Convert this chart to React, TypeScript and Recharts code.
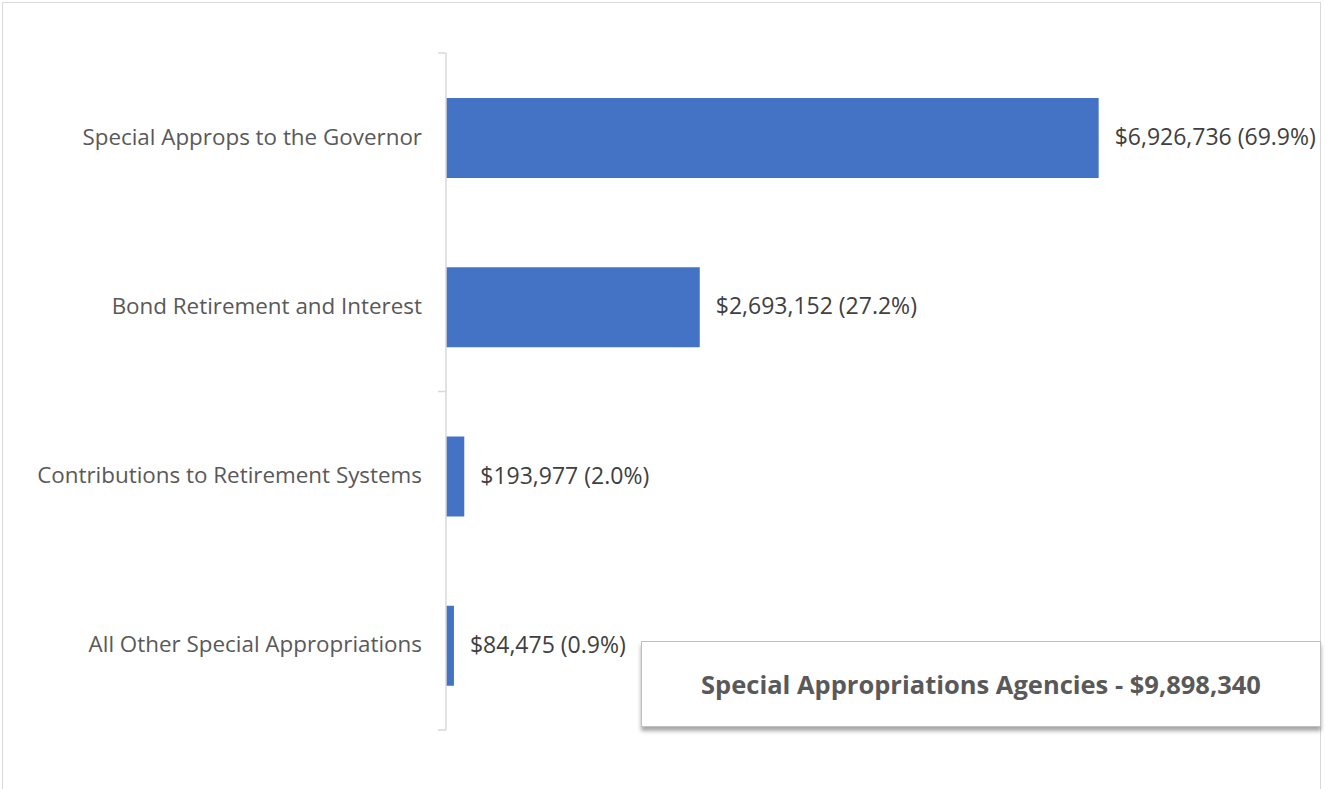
import { Bar, BarChart, LabelList, XAxis, YAxis } from 'recharts';

// categories, amounts and shares as printed on the chart
const categories = [
  'Special Approps to the Governor',
  'Bond Retirement and Interest',
  'Contributions to Retirement Systems',
  'All Other Special Appropriations',
];
const amounts = [6926736, 2693152, 193977, 84475];
const shares = ['69.9', '27.2', '2.0', '0.9'];
const title = 'Special Appropriations Agencies - $9,898,340';

const rows = categories.map((name, i) => ({ name, amount: amounts[i], share: shares[i] }));

const W = 1325;
const H = 789;
const MARGIN = { top: 53, right: 31, bottom: 59, left: 0 };
const AXIS_W = 446;
const band = (H - MARGIN.top - MARGIN.bottom) / categories.length;
const FONT = '"Open Sans", sans-serif';

// category label plus the tick marks that Excel puts every 2 categories
function CategoryTick(props: any) {
  const { x, y, payload, index } = props;
  const ax = x + 24;
  const marks: number[] = [];
  if (index % 2 === 0) marks.push(y - band / 2);
  if (index === categories.length - 1 && categories.length % 2 === 0) marks.push(y + band / 2);
  return (
    <g>
      {marks.map((my, k) => (
        <line key={k} x1={ax - 8} x2={ax} y1={my} y2={my} stroke="#d9d9d9" strokeWidth={1.5} />
      ))}
      <text x={x} y={y} dy={7} textAnchor="end" fill="#595959" fontSize={22.4} fontFamily={FONT}>
        {payload.value}
      </text>
    </g>
  );
}

function ValueLabel(props: any) {
  const { x, y, width, height, index } = props;
  const r = rows[index];
  return (
    <text x={x + width + 16} y={y + height / 2} dy={7} fill="#404040" fontSize={23} fontFamily={FONT}>
      {`$${r.amount.toLocaleString('en-US')} (${r.share}%)`}
    </text>
  );
}

export default function App() {
  return (
    <div style={{ position: 'absolute', left: 0, top: 0, width: W, height: H, overflow: 'hidden', background: '#fff' }}>
      <div
        style={{
          position: 'absolute',
          left: 2,
          top: 2,
          width: 1319,
          height: 820,
          border: '1.5px solid #d9d9d9',
          boxSizing: 'border-box',
        }}
      />
      <BarChart width={W} height={H} data={rows} layout="vertical" margin={MARGIN}>
        <XAxis type="number" domain={[0, 9000000]} hide />
        <YAxis
          type="category"
          dataKey="name"
          width={AXIS_W}
          axisLine={{ stroke: '#d9d9d9', strokeWidth: 1.5 }}
          tickLine={false}
          tickSize={8}
          tickMargin={16}
          tick={<CategoryTick />}
          interval={0}
        />
        <Bar dataKey="amount" fill="#4472c4" barSize={80} isAnimationActive={false}>
          <LabelList dataKey="amount" content={<ValueLabel />} />
        </Bar>
      </BarChart>
      <div
        style={{
          position: 'absolute',
          left: 641,
          top: 641,
          width: 680,
          height: 86,
          background: '#fff',
          border: '1px solid #bfbfbf',
          boxShadow: '0px 4px 4px rgba(0,0,0,0.35)',
          boxSizing: 'border-box',
          display: 'flex',
          alignItems: 'center',
          justifyContent: 'center',
        }}
      >
        <span
          style={{
            fontFamily: FONT,
            fontWeight: 700,
            fontSize: 25.5,
            color: '#595959',
            whiteSpace: 'nowrap',
          }}
        >
          {title}
        </span>
      </div>
    </div>
  );
}
